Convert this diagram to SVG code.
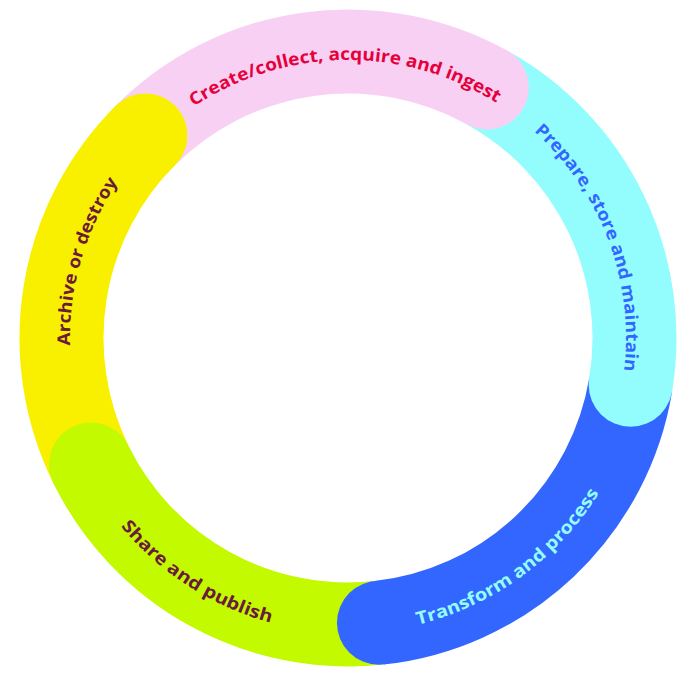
<svg xmlns="http://www.w3.org/2000/svg" width="695" height="675" viewBox="0 0 695 675">
  <style>
    .seg { fill: none; stroke-width: 84; stroke-linecap: butt; }
    .lbl { font-family: "Open Sans", "Lato", "DejaVu Sans", sans-serif; font-size: 17.5px; font-weight: 700; }
  </style>
  <defs>
    <path id="tp-pink" d="M 85.62 246.12 A 278 278 0 0 1 608.05 239.74"/>
    <path id="tp-cyan" d="M 345.09 60.01 A 278 278 0 0 1 528.91 549.08"/>
    <path id="tp-yellow" d="M 183.42 562.05 A 278 278 0 0 1 330.06 60.58"/>
    <path id="tp-blue" d="M 183.04 582.57 A 295 295 0 0 0 631.57 256.69"/>
    <path id="tp-green" d="M 60.33 272.64 A 295 295 0 0 0 526.56 572.82"/>
  </defs>
  <rect width="695" height="675" fill="#ffffff"/>
  <g id="ring">
    <path class="seg" stroke="#F8D0F4" d="M 145.42 135.42 A 286.5 286.5 0 0 1 486.90 87.42"/>
    <path class="seg" stroke="#93FDFD" d="M 486.90 87.42 A 286.5 286.5 0 0 1 630.65 384.79"/>
    <path class="seg" stroke="#3366FF" d="M 630.65 384.79 A 286.5 286.5 0 0 1 378.94 622.82"/>
    <path class="seg" stroke="#C3FA00" d="M 378.94 622.82 A 286.5 286.5 0 0 1 90.93 464.49"/>
    <path class="seg" stroke="#F9F000" d="M 90.93 464.49 A 286.5 286.5 0 0 1 145.42 135.42"/>
  </g>
  <g id="caps">
    <circle cx="486.90" cy="87.42" r="42" fill="#F8D0F4"/>
    <circle cx="630.65" cy="384.79" r="42" fill="#93FDFD"/>
    <circle cx="378.94" cy="622.82" r="42" fill="#3366FF"/>
    <circle cx="90.93" cy="464.49" r="42" fill="#C3FA00"/>
    <circle cx="145.42" cy="135.42" r="42" fill="#F9F000"/>
  </g>
  <g id="node-create">
    <text class="lbl" fill="#E6003B"><textPath href="#tp-pink" startOffset="50%" text-anchor="middle" textLength="320" lengthAdjust="spacingAndGlyphs">Create/collect, acquire and ingest</textPath></text>
  </g>
  <g id="node-prepare">
    <text class="lbl" fill="#3366FF"><textPath href="#tp-cyan" startOffset="50%" text-anchor="middle" textLength="266" lengthAdjust="spacingAndGlyphs">Prepare, store and maintain</textPath></text>
  </g>
  <g id="node-transform">
    <text class="lbl" fill="#93FDFD"><textPath href="#tp-blue" startOffset="50%" text-anchor="middle" textLength="230" lengthAdjust="spacingAndGlyphs">Transform and process</textPath></text>
  </g>
  <g id="node-share">
    <text class="lbl" fill="#6A1B3C"><textPath href="#tp-green" startOffset="50%" text-anchor="middle" textLength="181" lengthAdjust="spacingAndGlyphs">Share and publish</textPath></text>
  </g>
  <g id="node-archive">
    <text class="lbl" fill="#6A1B3C"><textPath href="#tp-yellow" startOffset="50%" text-anchor="middle" textLength="173" lengthAdjust="spacingAndGlyphs">Archive or destroy</textPath></text>
  </g>
</svg>
